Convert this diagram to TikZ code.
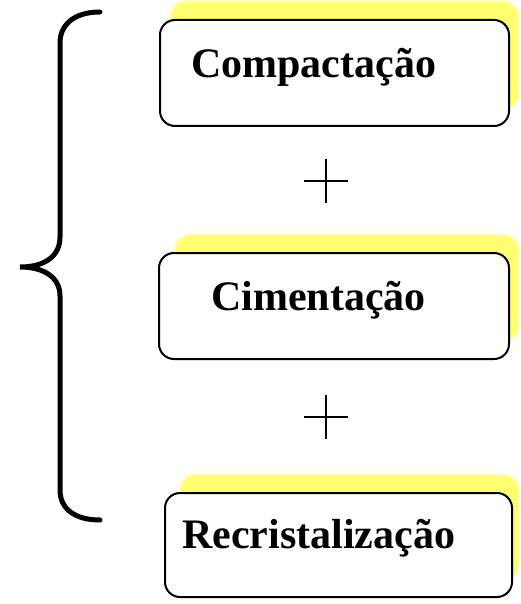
\documentclass[tikz,border=0pt]{standalone}
\usepackage{fontspec}
\setmainfont{Liberation Serif}
\definecolor{shadowyellow}{RGB}{255,255,112}
\definecolor{shadowpale}{RGB}{255,255,190}
\begin{document}
\begin{tikzpicture}[x=1pt,y=-1pt,
  boxstyle/.style={draw=black,line width=2pt,rounded corners=15pt,fill=white,inner sep=0pt},
  shadowstyle/.style={fill=shadowyellow,rounded corners=15pt},
  shadowhalo/.style={fill=shadowpale,rounded corners=17pt},
  labelstyle/.style={font=\fontsize{42}{48}\selectfont\bfseries,inner sep=0pt,anchor=base west},
  plusstyle/.style={line width=2pt},
  bracestyle/.style={line width=5pt,line cap=round}]
\useasboundingbox (0,0) rectangle (520,604);
% shadows
\fill[shadowhalo] (168,0) rectangle (520,110);
\fill[shadowstyle] (171,2) rectangle (518,108);
\fill[shadowhalo] (173,233) rectangle (520,342);
\fill[shadowstyle] (176,235) rectangle (518,340);
\fill[shadowhalo] (178,473) rectangle (520,581);
\fill[shadowstyle] (181,475) rectangle (518,579);
% boxes
\node[boxstyle,minimum width=349pt,minimum height=106pt] (b1) at (334.5,73) {};
\node[boxstyle,minimum width=350pt,minimum height=106pt] (b2) at (334,306) {};
\node[boxstyle,minimum width=347pt,minimum height=104pt] (b3) at (338.5,545) {};
% labels
\node[labelstyle] (t1) at (191,78) {Compactação};
\node[labelstyle] (t2) at (211,310) {Cimentação};
\node[labelstyle] (t3) at (182,548) {Recristalização};
% plus signs
\coordinate (p1) at (326,181);
\coordinate (p2) at (326,417);
\draw[plusstyle] ([xshift=-22pt]p1) -- ([xshift=22pt]p1);
\draw[plusstyle] ([yshift=-22pt]p1) -- ([yshift=22pt]p1);
\draw[plusstyle] ([xshift=-22pt]p2) -- ([xshift=22pt]p2);
\draw[plusstyle] ([yshift=-22pt]p2) -- ([yshift=22pt]p2);
% brace
\coordinate (btop) at (100,12);
\coordinate (btip) at (20,267);
\coordinate (bbot) at (100,520);
\draw[bracestyle] (btop) .. controls (75,12) and (60,24) .. (60,43)
  -- (60,237) .. controls (60,256) and (45,267) .. (btip)
  .. controls (45,267) and (60,278) .. (60,296)
  -- (60,490) .. controls (60,509) and (75,520) .. (bbot);
\end{tikzpicture}
\end{document}
